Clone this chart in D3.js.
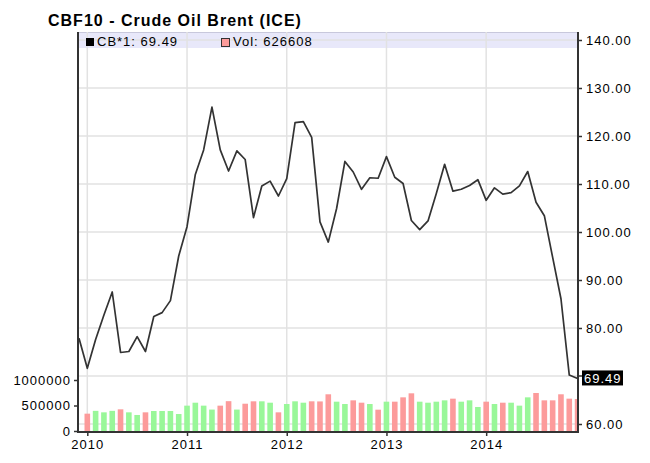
<!DOCTYPE html>
<html><head><meta charset="utf-8">
<script src="https://cdn.jsdelivr.net/npm/d3@7"></script>
<style>
html,body{margin:0;padding:0;background:#fff;}
svg text{font-family:"Liberation Sans",Arial,sans-serif;letter-spacing:1px;}
</style></head>
<body><svg id="c" width="650" height="463"></svg>
<script>
// ---- data ----
const title = "CBF10 - Crude Oil Brent (ICE)";
const startMonth = "2009-12"; // first close point
// Monthly closes Dec 2009 .. Dec 2014
const closes = [77.85,
  71.6, 77.6, 82.7, 87.5, 74.9, 75.1, 78.2, 75.1, 82.4, 83.2, 85.7, 95.0,
  101.1, 112.0, 117.1, 126.0, 117.1, 112.7, 116.9, 115.1, 103.0, 109.6, 110.6, 107.5,
  111.1, 122.8, 123.0, 119.7, 102.1, 97.9, 104.9, 114.7, 112.5, 108.9, 111.3, 111.2,
  115.7, 111.4, 110.1, 102.4, 100.5, 102.3, 108.0, 114.1, 108.5, 108.9, 109.7, 110.9,
  106.6, 109.2, 107.9, 108.2, 109.6, 112.6, 106.2, 103.4, 94.7, 86.1, 70.2, 69.49];
// Monthly volume Jan 2010 .. Dec 2014
const volumes = [
  340000, 395000, 366000, 395000, 425000, 366000, 314000, 366000, 392000, 392000, 392000, 333000,
  497000, 555000, 497000, 420000, 497000, 585000, 420000, 535000, 582000, 582000, 555000, 366000,
  529000, 582000, 555000, 582000, 580000, 720000, 575000, 529000, 601000, 555000, 529000, 418000,
  575000, 575000, 660000, 739000, 575000, 555000, 575000, 601000, 634000, 575000, 601000, 471000,
  575000, 529000, 555000, 555000, 497000, 660000, 745000, 601000, 601000, 720000, 634000, 626608];
// 1 = green (up) bar, 0 = red (down) bar
const volUp = [
  0,1,1,1,0,1,1,0,1,1,1,1,
  1,1,1,1,0,0,1,0,0,1,1,0,
  1,1,1,0,0,0,1,1,0,0,1,0,
  1,0,0,0,1,1,1,1,0,1,1,1,
  0,1,0,1,1,1,0,0,0,0,0,0];
const yearLabels = ["2010","2011","2012","2013","2014"];
const yearIndex = [1, 13, 25, 37, 49];
const priceTicks = [60,70,80,90,100,110,120,130,140];
const volTicks = [0, 500000, 1000000];
const legendPrice = "CB*1: 69.49";
const legendVol = "Vol: 626608";
const lastValue = 69.49;

// ---- layout ----
const L = 78, R = 578, T = 32, B = 432;
const svg = d3.select("#c");

const x = d3.scaleLinear().domain([-0.12, 60.05]).range([L, R]);
const yP = d3.scaleLinear().domain([60, 140]).range([424, 40]);
const yV = d3.scaleLinear().domain([0, 1000000]).range([431, 380]);

svg.append("defs").append("clipPath").attr("id","clip")
  .append("rect").attr("x", L).attr("y", T).attr("width", R - L).attr("height", B - T);

// legend band
svg.append("rect").attr("x", L).attr("y", T).attr("width", R - L).attr("height", 16)
  .attr("fill", "#e8e8fa");
svg.append("line").attr("x1", L).attr("x2", R).attr("y1", T + 0.5).attr("y2", T + 0.5)
  .attr("stroke", "#c8c8dc").attr("stroke-width", 1);

// grid
const grid = svg.append("g").attr("stroke", "#e2e2e2").attr("stroke-width", 1.5);
grid.selectAll("line.h").data(priceTicks).join("line")
  .attr("x1", L).attr("x2", R).attr("y1", d => yP(d)).attr("y2", d => yP(d));
grid.selectAll("line.v").data(yearIndex).join("line")
  .attr("x1", d => x(d)).attr("x2", d => x(d)).attr("y1", T).attr("y2", B);

// volume bars
const barW = 5.6;
svg.append("g").attr("clip-path", "url(#clip)")
  .selectAll("rect").data(volumes).join("rect")
  .attr("x", (d, i) => x(i + 1) - barW / 2)
  .attr("y", d => yV(d))
  .attr("width", barW)
  .attr("height", d => yV(0) - yV(d))
  .attr("fill", (d, i) => volUp[i] ? "#99f799" : "#fc9b9b");

// price line
svg.append("path").datum(closes)
  .attr("clip-path", "url(#clip)")
  .attr("fill", "none").attr("stroke", "#333").attr("stroke-width", 1.7)
  .attr("stroke-linejoin", "round")
  .attr("d", d3.line().x((d, i) => x(i)).y(d => yP(d)));

// frame
const frame = svg.append("g").attr("stroke", "#333").attr("stroke-width", 2);
frame.append("line").attr("x1", L).attr("x2", L).attr("y1", T).attr("y2", B + 1);
frame.append("line").attr("x1", R).attr("x2", R).attr("y1", T).attr("y2", B + 1);
frame.append("line").attr("x1", L - 1).attr("x2", R + 1).attr("y1", B).attr("y2", B);

function styleAxis(g) {
  g.select(".domain").remove();
  g.selectAll(".tick line").attr("stroke", "#333").attr("stroke-width", 1.5);
  g.selectAll(".tick text").attr("fill", "#000").attr("font-size", 13)
    .style("font-family", '"Liberation Sans", Arial, sans-serif');
}

// right price axis
svg.append("g").attr("transform", `translate(${R},0)`)
  .call(d3.axisRight(yP).tickValues(priceTicks.filter(t => Math.abs(t - lastValue) > 2))
    .tickFormat(d3.format(".2f")).tickSize(4).tickPadding(4))
  .call(styleAxis);
// the 70 tick mark remains
svg.append("line").attr("x1", R).attr("x2", R + 4).attr("y1", yP(70)).attr("y2", yP(70))
  .attr("stroke", "#333").attr("stroke-width", 1.5);

// left volume axis
svg.append("g").attr("transform", `translate(${L},0)`)
  .call(d3.axisLeft(yV).tickValues(volTicks).tickFormat(d3.format("d")).tickSize(4).tickPadding(3))
  .call(styleAxis);

// bottom axis
svg.append("g").attr("transform", `translate(0,${B})`)
  .call(d3.axisBottom(x).tickValues(yearIndex).tickFormat((d, i) => yearLabels[i]).tickSize(4).tickPadding(4))
  .call(styleAxis);

// last value box
const lvY = yP(lastValue);
svg.append("rect").attr("x", R + 4).attr("y", lvY - 8).attr("width", 41).attr("height", 15).attr("fill", "#000");
svg.append("text").attr("x", R + 6).attr("y", lvY + 4.5).attr("fill", "#fff").attr("font-size", 13)
  .text(d3.format(".2f")(lastValue));

// title
svg.append("text").attr("x", 48).attr("y", 26).attr("font-size", 16).attr("font-weight", "bold")
  .attr("fill", "#000").text(title);

// legend
svg.append("rect").attr("x", 86).attr("y", 38).attr("width", 8).attr("height", 8).attr("fill", "#000");
svg.append("text").attr("x", 97).attr("y", 46).attr("font-size", 13).attr("fill", "#000").text(legendPrice);
svg.append("rect").attr("x", 221.5).attr("y", 38.5).attr("width", 8).attr("height", 8)
  .attr("fill", "#fc9b9b").attr("stroke", "#333").attr("stroke-width", 1);
svg.append("text").attr("x", 233).attr("y", 46).attr("font-size", 13).attr("fill", "#000").text(legendVol);
</script></body></html>
